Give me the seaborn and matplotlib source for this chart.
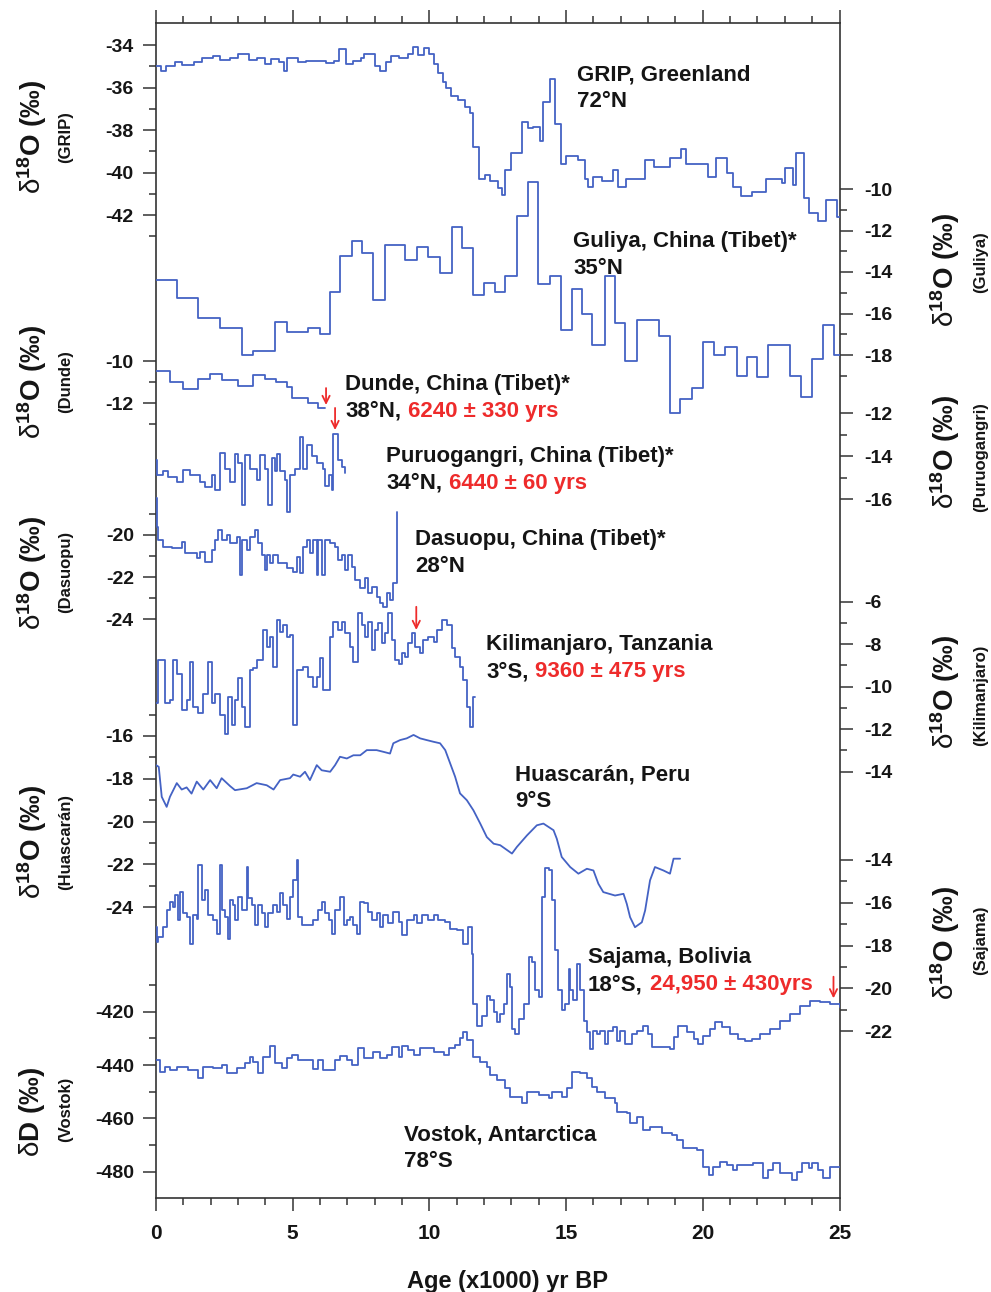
import matplotlib
matplotlib.use("Agg")
import matplotlib.pyplot as plt
import seaborn as sns

LINE_BLUE = "#4462C4"
ARROW_RED = "#EE2B2B"
INK = "#151515"

# ---- ice-core records: (age in kyr BP, isotope value) ----
GRIP = [
    (0.0, -35.0), (0.2, -35.2), (0.35, -35.0), (0.7, -34.8), (0.95, -34.95),
    (1.4, -34.8), (1.7, -34.6), (2.1, -34.5), (2.35, -34.7), (2.7, -34.6),
    (3.0, -34.4), (3.4, -34.7), (3.7, -34.6), (4.0, -34.9), (4.2, -34.65),
    (4.5, -34.8), (4.7, -35.2), (4.8, -34.6), (5.2, -34.8), (5.5, -34.75),
    (6.2, -34.85), (6.5, -34.75), (6.7, -34.2), (6.95, -34.9), (7.2, -34.75),
    (7.5, -34.6), (7.6, -34.4), (8.0, -35.0), (8.2, -35.2), (8.4, -34.8),
    (8.6, -34.5), (8.9, -34.6), (9.2, -34.4), (9.4, -34.1), (9.6, -34.45),
    (9.8, -34.15), (10.0, -34.4), (10.15, -34.9), (10.3, -35.3), (10.5, -35.75),
    (10.6, -36.0), (10.8, -36.4), (11.05, -36.6), (11.3, -36.9), (11.5, -37.2),
    (11.6, -38.8), (11.8, -40.3), (12.05, -40.1), (12.2, -40.4), (12.5, -40.75),
    (12.65, -41.05), (12.77, -39.9), (13.0, -39.1), (13.4, -37.6), (13.6, -37.9),
    (13.8, -37.85), (14.05, -38.5), (14.17, -36.7), (14.4, -35.6), (14.6, -37.7),
    (14.8, -39.6), (15.0, -39.2), (15.44, -39.4), (15.7, -40.3), (15.8, -40.7),
    (15.97, -40.2), (16.3, -40.4), (16.7, -39.9), (16.9, -40.7), (17.2, -40.3),
    (17.9, -39.4), (18.2, -39.75), (18.8, -39.3), (19.2, -38.9), (19.4, -39.6),
    (20.2, -40.2), (20.5, -39.3), (20.9, -40.0), (21.1, -40.7), (21.4, -41.1),
    (21.8, -40.9), (22.3, -40.3), (22.9, -40.5), (23.0, -39.8), (23.3, -40.6),
    (23.4, -39.1), (23.7, -41.2), (23.9, -41.9), (24.2, -42.3), (24.5, -41.3),
    (24.9, -42.1), (25.0, -42.1),
]

GULIYA = [
    (0.0, -14.4), (0.76, -15.25), (1.55, -16.2), (2.34, -16.7), (3.13, -18.0),
    (3.56, -17.8), (4.35, -16.4), (4.78, -16.9), (5.57, -16.7), (6.0, -17.0),
    (6.37, -14.95), (6.73, -13.25), (7.16, -12.5), (7.53, -13.1), (7.95, -15.35),
    (8.38, -12.7), (9.11, -13.4), (9.54, -12.8), (9.96, -13.3), (10.39, -14.05),
    (10.82, -11.85), (11.19, -12.85), (11.6, -15.1), (11.98, -14.55), (12.4, -14.95),
    (12.77, -14.2), (13.2, -11.3), (13.6, -9.65), (13.97, -14.6), (14.4, -14.2),
    (14.8, -16.8), (15.2, -14.8), (15.57, -16.0), (15.94, -17.5), (16.43, -14.2),
    (16.8, -16.45), (17.16, -18.3), (17.6, -16.3), (18.38, -17.1), (18.8, -20.8),
    (19.17, -20.1), (19.6, -19.6), (20.0, -17.35), (20.4, -18.0), (20.8, -17.6),
    (21.25, -19.0), (21.6, -18.1), (21.98, -19.05), (22.4, -17.5), (23.2, -19.0),
    (23.6, -20.0), (24.0, -18.2), (24.4, -16.55), (24.8, -18.0), (25.0, -18.0),
]

DUNDE = [
    (0.0, -10.47), (0.51, -10.98), (1.0, -11.32), (1.55, -10.87), (1.98, -10.61),
    (2.4, -10.9), (3.0, -11.17), (3.56, -10.66), (3.99, -10.87), (4.4, -10.98),
    (4.78, -11.21), (4.96, -11.76), (5.57, -12.0), (5.94, -12.24), (6.18, -12.24),
]

PURUOGANGRI = [
    (0.0, -14.2), (0.03, -14.9), (0.27, -14.7), (0.45, -14.95), (0.76, -15.2),
    (1.0, -14.65), (1.24, -14.9), (1.61, -15.2), (1.79, -15.45), (2.04, -14.9),
    (2.16, -15.6), (2.34, -13.85), (2.52, -14.6), (2.7, -15.2), (2.89, -13.9),
    (3.01, -14.3), (3.13, -16.3), (3.26, -13.95), (3.44, -14.6), (3.68, -15.1),
    (3.8, -13.95), (3.99, -14.6), (4.11, -16.3), (4.23, -14.1), (4.35, -14.7),
    (4.42, -13.9), (4.54, -14.7), (4.72, -15.1), (4.78, -16.6), (4.9, -14.9),
    (5.09, -14.6), (5.27, -13.1), (5.39, -14.6), (5.51, -13.5), (5.7, -14.0),
    (5.88, -14.3), (6.12, -14.6), (6.18, -15.4), (6.31, -14.9), (6.43, -15.6),
    (6.49, -12.95), (6.67, -14.2), (6.79, -14.5), (6.92, -14.8),
]

DASUOPU = [
    (0.0, -18.25), (0.04, -19.6), (0.09, -20.24), (0.27, -20.55), (0.57, -20.63),
    (0.94, -20.32), (1.06, -20.87), (1.49, -21.1), (1.61, -20.79), (1.79, -21.26),
    (2.04, -20.71), (2.16, -20.24), (2.28, -19.76), (2.4, -20.24), (2.59, -20.0),
    (2.7, -20.4), (2.95, -20.08), (3.07, -21.9), (3.13, -20.24), (3.32, -20.71),
    (3.44, -20.08), (3.62, -19.76), (3.74, -20.4), (3.87, -20.95), (3.99, -21.66),
    (4.05, -20.95), (4.17, -21.34), (4.29, -20.95), (4.48, -21.34), (4.78, -21.58),
    (5.02, -21.74), (5.15, -21.03), (5.27, -21.82), (5.39, -20.55), (5.51, -20.24),
    (5.63, -20.87), (5.76, -20.24), (5.88, -21.9), (5.94, -20.24), (6.06, -21.9),
    (6.18, -20.24), (6.37, -20.4), (6.55, -20.55), (6.67, -21.18), (6.79, -20.95),
    (6.92, -21.66), (7.04, -20.95), (7.16, -21.5), (7.28, -22.13), (7.46, -22.53),
    (7.65, -22.05), (7.77, -22.76), (7.89, -22.45), (8.07, -22.92), (8.2, -23.24),
    (8.32, -23.4), (8.44, -22.76), (8.56, -23.08), (8.68, -22.29), (8.81, -18.9),
    (8.83, -18.9),
]

KILIMANJARO = [
    (0.0, -10.79), (0.09, -8.75), (0.33, -10.79), (0.51, -10.64), (0.63, -8.75),
    (0.76, -9.38), (0.94, -11.11), (1.12, -10.64), (1.24, -8.83), (1.37, -10.95),
    (1.55, -11.26), (1.73, -10.32), (1.91, -8.83), (2.04, -10.79), (2.16, -10.32),
    (2.34, -11.34), (2.52, -12.21), (2.65, -10.48), (2.77, -11.82), (2.89, -10.64),
    (3.01, -9.61), (3.13, -10.95), (3.26, -11.9), (3.44, -9.22), (3.56, -9.14),
    (3.68, -8.75), (3.93, -7.34), (4.05, -8.12), (4.17, -7.65), (4.29, -9.07),
    (4.42, -6.86), (4.54, -7.42), (4.66, -7.1), (4.78, -7.65), (4.9, -7.57),
    (5.02, -11.82), (5.15, -9.22), (5.39, -9.07), (5.57, -9.54), (5.76, -10.0),
    (5.88, -9.54), (6.0, -8.67), (6.12, -10.17), (6.37, -7.65), (6.49, -6.94),
    (6.67, -7.34), (6.79, -6.94), (6.92, -7.49), (7.1, -8.12), (7.22, -8.83),
    (7.4, -6.55), (7.53, -7.1), (7.65, -7.65), (7.77, -6.94), (7.89, -8.28),
    (8.01, -7.34), (8.13, -7.02), (8.26, -7.96), (8.38, -7.49), (8.5, -6.55),
    (8.62, -7.81), (8.74, -8.75), (8.87, -8.91), (8.99, -8.43), (9.11, -8.59),
    (9.23, -7.96), (9.36, -7.49), (9.48, -8.12), (9.66, -8.43), (9.78, -7.81),
    (9.96, -7.65), (10.15, -7.89), (10.27, -7.34), (10.45, -6.86), (10.64, -7.1),
    (10.82, -8.2), (10.94, -8.59), (11.12, -9.07), (11.24, -9.69), (11.37, -10.95),
    (11.49, -11.9), (11.61, -10.48), (11.67, -10.48),
]

HUASCARAN = [
    (0.0, -17.36), (0.1, -17.44), (0.21, -18.84), (0.39, -19.31), (0.51, -18.84),
    (0.76, -18.2), (0.94, -18.5), (1.12, -18.4), (1.3, -18.69), (1.49, -18.13),
    (1.73, -18.5), (1.98, -18.06), (2.22, -18.44), (2.4, -17.97), (2.71, -18.34),
    (2.89, -18.53), (3.32, -18.44), (3.68, -18.2), (4.05, -18.3), (4.3, -18.5),
    (4.54, -18.06), (4.9, -17.97), (5.02, -17.8), (5.27, -17.9), (5.45, -17.67),
    (5.63, -18.06), (5.88, -17.36), (6.06, -17.6), (6.37, -17.67), (6.55, -17.36),
    (6.73, -16.97), (6.98, -17.05), (7.22, -16.9), (7.47, -16.9), (7.71, -16.66),
    (8.07, -16.66), (8.32, -16.74), (8.56, -16.82), (8.68, -16.34), (8.93, -16.19),
    (9.17, -16.11), (9.42, -15.95), (9.66, -16.11), (9.9, -16.19), (10.15, -16.27),
    (10.39, -16.34), (10.58, -16.66), (10.76, -17.28), (10.94, -17.9), (11.12, -18.68),
    (11.37, -19.0), (11.61, -19.47), (11.86, -20.09), (12.1, -20.72), (12.35, -21.03),
    (12.59, -21.1), (13.02, -21.49), (13.2, -21.18), (13.57, -20.64), (13.93, -20.17),
    (14.17, -20.09), (14.54, -20.4), (14.66, -20.8), (14.84, -21.65), (15.15, -22.12),
    (15.45, -22.43), (15.76, -22.2), (16.0, -22.28), (16.18, -22.9), (16.36, -23.29),
    (16.79, -23.45), (17.1, -23.37), (17.22, -23.84), (17.34, -24.46), (17.52, -24.93),
    (17.77, -24.7), (17.89, -24.15), (18.07, -22.74), (18.25, -22.12), (18.56, -22.28),
    (18.8, -22.43), (18.93, -21.73), (19.17, -21.73),
]

SAJAMA = [
    (0.0, -17.13), (0.05, -17.83), (0.09, -17.6), (0.27, -17.13), (0.39, -16.35),
    (0.51, -15.96), (0.63, -16.19), (0.7, -15.64), (0.82, -16.82), (0.88, -15.49),
    (1.0, -16.5), (1.12, -16.66), (1.24, -17.91), (1.34, -16.58), (1.49, -16.74),
    (1.55, -14.23), (1.67, -15.88), (1.79, -15.41), (1.91, -16.58), (2.1, -16.82),
    (2.22, -17.44), (2.34, -14.23), (2.4, -16.35), (2.52, -16.66), (2.65, -17.7),
    (2.71, -15.88), (2.8, -16.11), (2.89, -16.82), (3.01, -15.72), (3.13, -16.35),
    (3.32, -14.31), (3.38, -15.8), (3.5, -16.11), (3.62, -17.05), (3.74, -16.11),
    (3.87, -16.5), (3.99, -17.13), (4.11, -16.5), (4.29, -16.11), (4.42, -16.42),
    (4.54, -15.56), (4.66, -16.11), (4.78, -16.74), (4.9, -15.72), (5.02, -14.94),
    (5.15, -14.0), (5.21, -16.66), (5.33, -17.05), (5.57, -17.05), (5.76, -16.82),
    (5.94, -16.35), (6.06, -15.96), (6.18, -16.5), (6.31, -16.82), (6.43, -17.44),
    (6.55, -16.35), (6.73, -15.72), (6.86, -17.05), (6.98, -16.82), (7.1, -16.66),
    (7.22, -17.05), (7.35, -17.44), (7.47, -15.96), (7.59, -16.03), (7.77, -16.42),
    (7.89, -16.82), (8.07, -16.5), (8.2, -17.13), (8.32, -16.58), (8.5, -16.97),
    (8.68, -16.42), (8.87, -16.9), (8.99, -17.52), (9.17, -16.82), (9.42, -16.58),
    (9.54, -16.97), (9.72, -16.58), (9.96, -16.82), (10.15, -16.58), (10.33, -16.82),
    (10.57, -16.9), (10.76, -17.21), (11.0, -17.29), (11.24, -17.91), (11.43, -17.13),
    (11.55, -18.38), (11.61, -20.73), (11.73, -21.75), (11.92, -21.28), (12.1, -20.34),
    (12.23, -20.57), (12.35, -21.12), (12.47, -21.59), (12.59, -21.2), (12.72, -20.73),
    (12.84, -19.32), (12.96, -19.95), (13.02, -21.9), (13.14, -22.14), (13.27, -21.43),
    (13.45, -20.73), (13.63, -18.54), (13.75, -18.77), (13.87, -20.1), (14.0, -20.42),
    (14.12, -15.72), (14.24, -14.39), (14.36, -14.47), (14.48, -15.88), (14.6, -18.23),
    (14.72, -20.1), (14.84, -21.04), (14.97, -20.73), (15.09, -19.08), (15.15, -20.1),
    (15.27, -20.57), (15.39, -18.85), (15.51, -20.1), (15.64, -21.51), (15.76, -22.06),
    (15.88, -22.84), (16.0, -21.98), (16.12, -22.14), (16.25, -21.98), (16.43, -22.6),
    (16.55, -21.98), (16.73, -21.83), (16.86, -22.45), (16.98, -21.98), (17.16, -22.6),
    (17.4, -22.14), (17.59, -21.98), (17.83, -21.75), (18.01, -22.14), (18.13, -22.76),
    (18.44, -22.76), (18.8, -22.84), (18.93, -22.3), (19.11, -21.75), (19.41, -22.06),
    (19.66, -22.37), (19.84, -22.6), (20.02, -22.22), (20.27, -21.9), (20.45, -21.59),
    (20.69, -21.83), (21.0, -22.14), (21.3, -22.37), (21.55, -22.45), (21.79, -22.37),
    (22.1, -22.14), (22.46, -21.9), (22.83, -21.51), (23.2, -21.2), (23.56, -20.81),
    (23.93, -20.6), (24.29, -20.65), (24.66, -20.73), (25.0, -20.89),
]

VOSTOK = [
    (0.0, -438.1), (0.15, -442.5), (0.33, -440.6), (0.51, -441.9), (0.76, -440.6),
    (1.18, -441.9), (1.55, -445.0), (1.73, -440.6), (2.1, -441.2), (2.4, -440.0),
    (2.59, -442.9), (2.95, -441.2), (3.26, -439.4), (3.44, -436.9), (3.56, -438.7),
    (3.74, -442.9), (3.93, -436.9), (4.17, -432.9), (4.35, -439.4), (4.6, -441.2),
    (4.78, -437.5), (4.96, -436.2), (5.2, -438.1), (5.76, -441.6), (5.94, -438.1),
    (6.12, -441.9), (6.55, -438.1), (6.73, -436.6), (6.98, -438.1), (7.16, -440.0),
    (7.4, -433.7), (7.59, -437.5), (7.95, -435.0), (8.2, -437.5), (8.44, -436.2),
    (8.62, -433.1), (8.87, -436.9), (8.99, -432.9), (9.23, -434.4), (9.42, -436.2),
    (9.66, -433.7), (10.15, -435.0), (10.52, -436.2), (10.7, -433.7), (10.94, -432.5),
    (11.12, -430.0), (11.24, -427.5), (11.37, -430.6), (11.61, -436.9), (11.86, -438.7),
    (12.1, -440.6), (12.22, -443.7), (12.47, -445.6), (12.77, -448.7), (12.96, -451.9),
    (13.2, -451.9), (13.39, -454.4), (13.57, -450.0), (14.0, -451.2), (14.36, -452.5),
    (14.48, -450.0), (14.84, -451.9), (15.03, -448.7), (15.21, -442.5), (15.51, -443.1),
    (15.76, -445.0), (15.94, -448.1), (16.12, -450.0), (16.43, -452.5), (16.79, -454.4),
    (16.86, -457.5), (17.22, -458.1), (17.34, -461.9), (17.59, -459.4), (17.83, -464.4),
    (18.07, -463.1), (18.5, -465.6), (18.87, -466.2), (19.05, -468.1), (19.29, -471.2),
    (19.78, -471.9), (20.02, -478.1), (20.21, -481.2), (20.39, -478.1), (20.63, -476.2),
    (20.88, -477.5), (21.12, -479.4), (21.24, -477.5), (21.85, -476.9), (22.22, -482.5),
    (22.4, -479.4), (22.58, -476.9), (22.83, -480.6), (23.25, -483.1), (23.44, -480.0),
    (23.62, -476.9), (23.87, -478.7), (23.99, -476.9), (24.23, -479.4), (24.41, -482.5),
    (24.66, -478.1), (25.0, -478.1),
]

# dated horizons marked with red arrows: (record, age, arrow tail value, arrow tip value)
DATED_ARROWS = [
    ("Dunde", 6.22, -11.28, -12.08),
    ("Puruogangri", 6.55, -11.75, -12.78),
    ("Kilimanjaro", 9.52, -6.24, -7.33),
    ("Sajama", 24.78, -19.46, -20.47),
]

# site labels: name, latitude, dating
SITES = [
    ("GRIP, Greenland", "72°N", None),
    ("Guliya, China (Tibet)*", "35°N", None),
    ("Dunde, China (Tibet)*", "38°N,", "6240 ± 330 yrs"),
    ("Puruogangri, China (Tibet)*", "34°N,", "6440 ± 60 yrs"),
    ("Dasuopu, China (Tibet)*", "28°N", None),
    ("Kilimanjaro, Tanzania", "3°S,", "9360 ± 475 yrs"),
    ("Huascarán, Peru", "9°S", None),
    ("Sajama, Bolivia", "18°S,", "24,950 ± 430yrs"),
    ("Vostok, Antarctica", "78°S", None),
]

# ---------------- layout (pixel geometry of the 991 x 1292 figure) ----------------
W, H = 991, 1292
PLOT_L, PLOT_R, PLOT_T, PLOT_B = 156, 839.5, 22.7, 1198

# per record: data, side, two (value, pixel) anchors, major ticks, minor ticks, stepped,
#             axis title kind, axis subtitle, title y-pixel, subtitle y-pixel
PANELS = {
    "GRIP": (GRIP, "left", (-34, 45, -42, 215), [-34, -36, -38, -40, -42],
             [-35, -37, -39, -41, -43], True, "o18", "(GRIP)", 137, 137),
    "Guliya": (GULIYA, "right", (-10, 189, -18, 355), [-10, -12, -14, -16, -18],
               [-11, -13, -15, -17, -19], True, "o18", "(Guliya)", 270, 262),
    "Dunde": (DUNDE, "left", (-10, 361, -12, 403.3), [-10, -12], [-11, -13],
              True, "o18", "(Dunde)", 382, 382),
    "Puruogangri": (PURUOGANGRI, "right", (-12, 413.3, -16, 499), [-12, -14, -16],
                    [-13, -15], True, "o18", "(Puruogangri)", 452, 457),
    "Dasuopu": (DASUOPU, "left", (-20, 535, -24, 619.3), [-20, -22, -24],
                [-19, -21, -23], True, "o18", "(Dasuopu)", 573, 572),
    "Kilimanjaro": (KILIMANJARO, "right", (-6, 601.7, -14, 771.7), [-6, -8, -10, -12, -14],
                    [-7, -9, -11, -13], True, "o18", "(Kilimanjaro)", 692, 695),
    "Huascaran": (HUASCARAN, "left", (-16, 736, -24, 907.3), [-16, -18, -20, -22, -24],
                  [-15, -17, -19, -21, -23], False, "o18", "(Huascarán)", 842, 842),
    "Sajama": (SAJAMA, "right", (-14, 860, -22, 1031), [-14, -16, -18, -20, -22],
               [-15, -17, -19, -21], True, "o18", "(Sajama)", 943, 940),
    "Vostok": (VOSTOK, "left", (-420, 1011.7, -480, 1171.7), [-420, -440, -460, -480],
               [-410, -430, -450, -470], True, "dD", "(Vostok)", 1112, 1109),
}

# (left x, baseline of first line) for each site label, in pixels
SITE_POS = [(577, 80), (573, 247), (345, 390), (386, 461.7), (415, 545),
            (486, 650), (515, 780), (588, 963), (404, 1140)]


def fx(px):
    return px / W


def fy(py):
    return 1 - py / H


def ylim_from(v1, p1, v2, p2):
    s = (p2 - p1) / (v1 - v2)
    return v1 - (PLOT_B - p1) / s, v1 + (p1 - PLOT_T) / s


sns.set_style("ticks")
plt.rcParams["font.family"] = ["Liberation Sans", "DejaVu Sans"]
plt.rcParams["font.weight"] = "bold"
plt.rcParams["axes.unicode_minus"] = False
plt.rcParams["mathtext.fontset"] = "custom"
plt.rcParams["mathtext.rm"] = "Liberation Sans:weight=normal"
plt.rcParams["mathtext.it"] = "Liberation Sans:italic:weight=normal"
plt.rcParams["mathtext.bf"] = "Liberation Sans:bold"

fig = plt.figure(figsize=(W / 100, H / 100), dpi=100, facecolor="white")
host = fig.add_axes([fx(PLOT_L), fy(PLOT_B), fx(PLOT_R) - fx(PLOT_L), fy(PLOT_T) - fy(PLOT_B)])
host.set_facecolor("white")
for sp in host.spines.values():
    sp.set_visible(True)
    sp.set_color("#333333")
    sp.set_linewidth(1.2)
host.set_yticks([])
host.set_xticks(range(0, 26, 5))
host.set_xticks(range(0, 26), minor=True)
host.tick_params(axis="x", which="major", direction="out", length=9.5, width=1.1,
                 top=True, bottom=True, labeltop=False, labelsize=15, pad=9,
                 color="#333333", labelcolor=INK)
host.tick_params(axis="x", which="minor", direction="out", length=5, width=1.1,
                 top=True, bottom=True, color="#333333")

axes = {}
for key, (data, side, anchors, majors, minors, stepped, kind, sub, ty, sy) in PANELS.items():
    ax = host.twinx()
    ages = [a for a, _ in data]
    vals = [v for _, v in data]
    sns.lineplot(x=ages, y=vals, ax=ax, color=LINE_BLUE, linewidth=1.3,
                 estimator=None, sort=False,
                 drawstyle="steps-post" if stepped else "default")
    ax.set_ylim(*ylim_from(*anchors))
    for sp in ax.spines.values():
        sp.set_visible(False)
    if side == "left":
        ax.yaxis.tick_left()
    else:
        ax.yaxis.tick_right()
    ax.set_yticks(majors)
    ax.set_yticklabels([str(v) for v in majors])
    ax.set_yticks(minors, minor=True)
    ax.tick_params(axis="y", which="major", direction="out", length=9.5, width=1.1,
                   labelsize=14, pad=6.5 if side == "left" else 8,
                   color="#333333", labelcolor=INK)
    ax.tick_params(axis="y", which="minor", direction="out", length=5, width=1.1,
                   color="#333333")
    ax.set_ylabel("")
    ax.set_xlabel("")
    axes[key] = ax

    title = r"$\mathrm{\delta}^{\mathbf{18}}$O (‰)" if kind == "o18" else r"$\mathrm{\delta}$D (‰)"
    tx, sx = (32, 66) if side == "left" else (945, 981)
    fig.text(fx(tx), fy(ty), title, rotation=90, ha="center", va="center",
             fontsize=20, color=INK)
    fig.text(fx(sx), fy(sy), sub, rotation=90, ha="center", va="center",
             fontsize=12, color=INK)

host.set_xlim(0, 25)

for key, age, v_tail, v_tip in DATED_ARROWS:
    axes[key].annotate("", xy=(age, v_tip), xytext=(age, v_tail),
                       arrowprops=dict(arrowstyle="->", color=ARROW_RED, lw=1.3,
                                       shrinkA=0, shrinkB=0, mutation_scale=13))

for (name, lat, date), (x0, y0) in zip(SITES, SITE_POS):
    fig.text(fx(x0), fy(y0), name, ha="left", va="baseline", fontsize=16, color=INK)
    t = fig.text(fx(x0), fy(y0 + 27), lat, ha="left", va="baseline", fontsize=16, color=INK)
    if date:
        host.annotate(date, xy=(1, 0), xycoords=t, xytext=(5, 0),
                      textcoords="offset points", ha="left", va="bottom",
                      fontsize=16, color=ARROW_RED, annotation_clip=False)

fig.text(fx(507), fy(1288), "Age (x1000) yr BP", ha="center", va="baseline",
         fontsize=17, color=INK)

fig.savefig("out.png", dpi=100, facecolor="white")
